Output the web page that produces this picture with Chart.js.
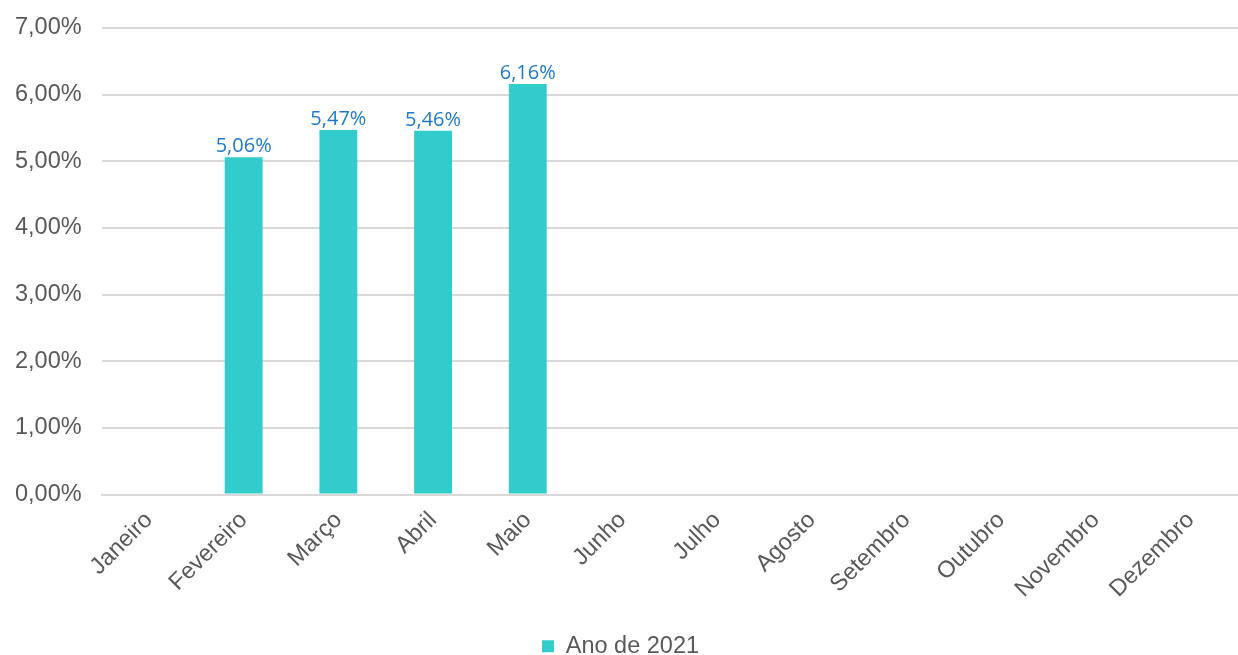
<!DOCTYPE html>
<html>
<head>
<meta charset="utf-8">
<script src="https://cdn.jsdelivr.net/npm/chart.js@4"></script>
<style>
  html, body { margin: 0; padding: 0; background: #fff; }
  #wrap { width: 1238px; height: 655px; position: relative; }
</style>
</head>
<body>
<div id="wrap"><canvas id="myChart"></canvas></div>
<script>
// dados
var meses = ['Janeiro', 'Fevereiro', 'Março', 'Abril', 'Maio', 'Junho', 'Julho', 'Agosto', 'Setembro', 'Outubro', 'Novembro', 'Dezembro'];
var valores2021 = [null, 5.06, 5.47, 5.46, 6.16, null, null, null, null, null, null, null];
var serieNome = 'Ano de 2021';

function pct(v) {
  return v.toFixed(2).replace('.', ',') + '%';
}

// rótulos de dados acima das barras
var rotulos = {
  id: 'rotulos',
  afterDatasetsDraw: function(chart) {
    var ctx = chart.ctx;
    var meta = chart.getDatasetMeta(0);
    ctx.save();
    ctx.font = '20px "Open Sans", sans-serif';
    ctx.fillStyle = '#1F7BC8';
    ctx.textAlign = 'center';
    ctx.textBaseline = 'alphabetic';
    meta.data.forEach(function(bar, i) {
      var v = chart.data.datasets[0].data[i];
      if (v == null) return;
      ctx.fillText(pct(v), bar.x, bar.y - 5);
    });
    ctx.restore();
  }
};

var fonte = '"Liberation Sans", Arial, sans-serif';

var ctx = document.getElementById('myChart').getContext('2d');
var myChart = new Chart(ctx, {
  type: 'bar',
  data: {
    labels: meses,
    datasets: [{
      label: serieNome,
      data: valores2021,
      backgroundColor: '#33CCCC',
      categoryPercentage: 1,
      barPercentage: 0.40
    }]
  },
  options: {
    responsive: true,
    maintainAspectRatio: false,
    animation: false,
    layout: { padding: { top: 28, right: -8, left: -5, bottom: -13 } },
    scales: {
      x: {
        grid: { display: false },
        border: { color: '#d9d9d9', width: 2 },
        ticks: {
          color: '#595959',
          font: { family: fonte, size: 23.5 },
          minRotation: 45,
          maxRotation: 45,
          padding: 4
        },
        afterFit: function(s) { s.height = 139; }
      },
      y: {
        min: 0,
        max: 7,
        grid: { color: '#d9d9d9', lineWidth: 2, drawTicks: false },
        border: { display: false },
        ticks: {
          stepSize: 1,
          color: '#595959',
          padding: 20,
          font: { family: fonte, size: 23.5 },
          callback: function(v) { return pct(v); }
        },
        afterFit: function(s) { s.paddingTop = 0; }
      }
    },
    plugins: {
      legend: {
        position: 'bottom',
        labels: {
          color: '#595959',
          font: { family: fonte, size: 23.5 },
          boxWidth: 12,
          boxHeight: 12,
          padding: 1
        }
      },
      tooltip: { enabled: false }
    }
  },
  plugins: [rotulos]
});
</script>
</body>
</html>
